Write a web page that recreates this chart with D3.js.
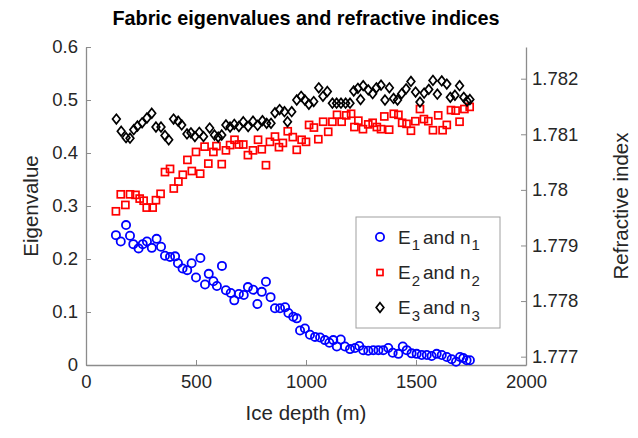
<!DOCTYPE html>
<html><head><meta charset="utf-8">
<script src="https://cdn.jsdelivr.net/npm/d3@7"></script>
<style>body{margin:0;background:#fff}svg{display:block;font-family:"Liberation Sans",Arial,sans-serif}</style>
</head><body><svg id="c" width="638" height="438"></svg>
<script>
// E1 (blue circles): [depth m, eigenvalue]
const e1 = [[136,0.245],[158,0.233],[182,0.264],[200,0.244],[215,0.228],[239,0.220],[258,0.228],[277,0.233],[299,0.221],[321,0.238],[341,0.223],[359,0.206],[382,0.204],[405,0.205],[418,0.192],[439,0.182],[460,0.179],[480,0.192],[500,0.165],[520,0.202],[541,0.152],[558,0.172],[579,0.158],[595,0.149],[618,0.187],[636,0.141],[658,0.136],[674,0.122],[695,0.134],[717,0.132],[736,0.147],[760,0.142],[779,0.115],[799,0.138],[818,0.157],[839,0.128],[859,0.107],[882,0.107],[905,0.109],[920,0.098],[942,0.091],[958,0.088],[973,0.065],[995,0.069],[1018,0.057],[1041,0.053],[1064,0.052],[1086,0.047],[1106,0.042],[1124,0.047],[1140,0.035],[1158,0.048],[1177,0.035],[1200,0.030],[1223,0.032],[1242,0.036],[1260,0.028],[1283,0.027],[1306,0.028],[1329,0.028],[1351,0.028],[1374,0.032],[1394,0.023],[1420,0.021],[1440,0.035],[1458,0.028],[1480,0.022],[1503,0.021],[1526,0.019],[1549,0.019],[1571,0.017],[1594,0.021],[1617,0.019],[1640,0.015],[1662,0.011],[1682,0.006],[1700,0.015],[1715,0.013],[1730,0.009],[1745,0.009]];
// E2 (red squares)
const e2 = [[136,0.290],[158,0.322],[179,0.302],[200,0.322],[225,0.321],[244,0.314],[262,0.310],[276,0.297],[303,0.297],[318,0.311],[339,0.323],[359,0.364],[382,0.370],[399,0.333],[420,0.346],[440,0.359],[461,0.387],[481,0.366],[500,0.402],[519,0.361],[539,0.412],[556,0.380],[579,0.402],[593,0.413],[617,0.379],[636,0.405],[655,0.415],[675,0.425],[695,0.416],[715,0.416],[736,0.396],[759,0.405],[782,0.425],[799,0.407],[818,0.377],[836,0.421],[859,0.431],[877,0.411],[895,0.419],[917,0.441],[940,0.430],[958,0.406],[980,0.425],[1000,0.421],[1014,0.453],[1036,0.448],[1056,0.426],[1078,0.459],[1101,0.440],[1120,0.459],[1141,0.472],[1162,0.459],[1183,0.471],[1205,0.474],[1220,0.449],[1238,0.461],[1259,0.445],[1283,0.454],[1303,0.457],[1322,0.449],[1341,0.445],[1356,0.469],[1378,0.444],[1399,0.474],[1420,0.472],[1437,0.457],[1457,0.455],[1477,0.442],[1497,0.460],[1518,0.483],[1536,0.464],[1556,0.460],[1577,0.443],[1601,0.471],[1621,0.443],[1640,0.453],[1659,0.481],[1680,0.480],[1698,0.459],[1720,0.483],[1744,0.487]];
// E3 (black diamonds)
const e3 = [[138,0.464],[160,0.441],[182,0.429],[200,0.428],[217,0.444],[234,0.451],[255,0.457],[277,0.466],[299,0.475],[318,0.449],[341,0.449],[359,0.433],[376,0.425],[398,0.464],[419,0.460],[435,0.453],[459,0.436],[477,0.438],[495,0.431],[515,0.439],[534,0.431],[562,0.447],[584,0.434],[601,0.430],[617,0.434],[636,0.453],[655,0.449],[674,0.454],[695,0.450],[715,0.459],[737,0.450],[759,0.460],[780,0.452],[802,0.461],[821,0.456],[841,0.456],[859,0.476],[880,0.482],[902,0.478],[916,0.459],[935,0.478],[958,0.500],[978,0.507],[995,0.500],[1013,0.492],[1035,0.497],[1058,0.523],[1077,0.507],[1097,0.516],[1120,0.494],[1139,0.494],[1159,0.494],[1180,0.494],[1200,0.494],[1217,0.517],[1236,0.522],[1248,0.501],[1260,0.527],[1283,0.519],[1303,0.512],[1320,0.523],[1341,0.528],[1359,0.500],[1379,0.523],[1398,0.503],[1416,0.500],[1435,0.512],[1455,0.521],[1477,0.535],[1498,0.515],[1518,0.496],[1537,0.513],[1558,0.520],[1577,0.537],[1597,0.511],[1617,0.536],[1640,0.530],[1656,0.505],[1677,0.509],[1698,0.527],[1717,0.505],[1732,0.498],[1745,0.501]];

const xTicks = [0,500,1000,1500,2000];
const yTicks = [0,0.1,0.2,0.3,0.4,0.5,0.6];
const rTicks = [1.777,1.778,1.779,1.78,1.781,1.782];
const legendLabels = [["E","1","n","1"],["E","2","n","2"],["E","3","n","3"]];
const titleText = "Fabric eigenvalues and refractive indices";

const svg = d3.select("#c");
const L = 86, R = 526, T = 47, B = 365;
const x = d3.scaleLinear().domain([0,2000]).range([L,R]);
const y = d3.scaleLinear().domain([0,0.6]).range([B,T]);
const yr = d3.scaleLinear().domain([1.77685,1.78257]).range([B,T]);
const axisCol = "#8c8c8c", textCol = "#262626";
const tickFont = 18.5, labelFont = 20.5;

function style(g){
  g.select(".domain").attr("stroke",axisCol).attr("stroke-width",1.3);
  g.selectAll(".tick line").attr("stroke",axisCol).attr("stroke-width",1);
  g.selectAll(".tick text").attr("fill",textCol).attr("font-size",tickFont).attr("font-family","Liberation Sans, Arial, sans-serif");
}
const gx = svg.append("g").attr("transform",`translate(0,${B})`)
  .call(d3.axisBottom(x).tickValues(xTicks).tickFormat(d3.format("d")).tickSizeInner(-5).tickSizeOuter(0).tickPadding(10));
style(gx);
const gy = svg.append("g").attr("transform",`translate(${L},0)`)
  .call(d3.axisLeft(y).tickValues(yTicks).tickFormat(d=>d===0?"0":d3.format(".1f")(d)).tickSizeInner(-5).tickSizeOuter(0).tickPadding(8));
style(gy);
const gr = svg.append("g").attr("transform",`translate(${R},0)`)
  .call(d3.axisRight(yr).tickValues(rTicks).tickFormat(d=>String(+d.toFixed(3))).tickSizeInner(-5).tickSizeOuter(0).tickPadding(6));
style(gr);

// markers
const plot = svg.append("g");
const cr = 4.1, sq = 7, dm = 4.8;
plot.selectAll("circle.e1").data(e1).join("circle").attr("class","e1")
  .attr("cx",d=>x(d[0])).attr("cy",d=>y(d[1])).attr("r",cr)
  .attr("fill","none").attr("stroke","#0000ff").attr("stroke-width",1.8);
plot.selectAll("rect.e2").data(e2).join("rect").attr("class","e2")
  .attr("x",d=>x(d[0])-sq/2).attr("y",d=>y(d[1])-sq/2).attr("width",sq).attr("height",sq)
  .attr("fill","none").attr("stroke","#ff0000").attr("stroke-width",1.7);
const diamond = (cx,cy,s)=>`M${cx},${cy-s}L${cx+s*0.8},${cy}L${cx},${cy+s}L${cx-s*0.8},${cy}Z`;
plot.selectAll("path.e3").data(e3).join("path").attr("class","e3")
  .attr("d",d=>diamond(x(d[0]),y(d[1]),dm))
  .attr("fill","none").attr("stroke","#000").attr("stroke-width",1.7);

// title & labels
svg.append("text").attr("x",(L+R)/2).attr("y",25).attr("text-anchor","middle")
  .attr("font-size",19.8).attr("font-weight","bold").attr("fill","#000").text(titleText);
svg.append("text").attr("x",(L+R)/2).attr("y",420).attr("text-anchor","middle")
  .attr("font-size",labelFont).attr("fill",textCol).text("Ice depth (m)");
svg.append("text").attr("transform",`translate(38,${(T+B)/2}) rotate(-90)`).attr("text-anchor","middle")
  .attr("font-size",labelFont).attr("fill",textCol).text("Eigenvalue");
svg.append("text").attr("transform",`translate(628,${(T+B)/2}) rotate(-90)`).attr("text-anchor","middle")
  .attr("font-size",labelFont).attr("fill",textCol).text("Refractive index");

// legend
const lg = svg.append("g");
lg.append("rect").attr("x",356).attr("y",217).attr("width",144).attr("height",111)
  .attr("fill","#fff").attr("stroke","#a0a0a0").attr("stroke-width",1);
const rows = [237,272.5,307.5];
lg.append("circle").attr("cx",380).attr("cy",rows[0]).attr("r",cr).attr("fill","none").attr("stroke","#0000ff").attr("stroke-width",1.8);
lg.append("rect").attr("x",380-3).attr("y",rows[1]-3).attr("width",6).attr("height",6).attr("fill","none").attr("stroke","#ff0000").attr("stroke-width",1.7);
lg.append("path").attr("d",diamond(380,rows[2],dm)).attr("fill","none").attr("stroke","#000").attr("stroke-width",1.7);
legendLabels.forEach((lab,i)=>{
  const t = lg.append("text").attr("x",398).attr("y",rows[i]+6.5).attr("font-size",19).attr("fill",textCol);
  t.append("tspan").text(lab[0]);
  t.append("tspan").attr("dy",6.5).attr("dx",1).attr("font-size",15).text(lab[1]);
  t.append("tspan").attr("dy",-6.5).attr("dx",3).text("and " + lab[2]);
  t.append("tspan").attr("dy",6.5).attr("dx",1).attr("font-size",15).text(lab[3]);
});
</script></body></html>
